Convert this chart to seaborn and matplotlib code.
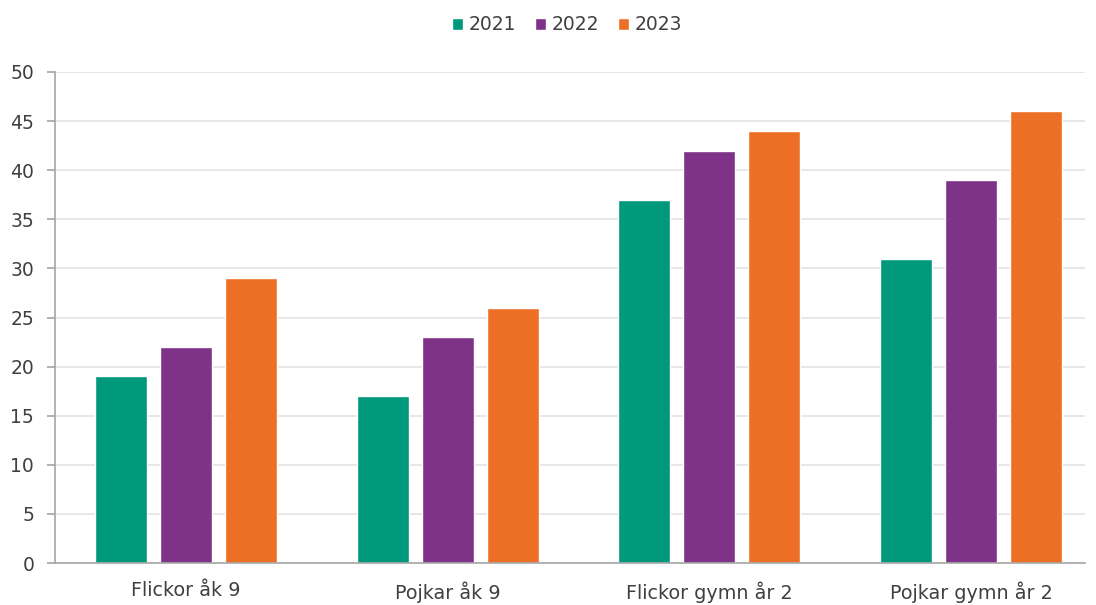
import matplotlib
matplotlib.use("Agg")
import matplotlib.pyplot as plt
import seaborn as sns
import pandas as pd

categories = ["Flickor åk 9", "Pojkar åk 9", "Flickor gymn år 2", "Pojkar gymn år 2"]
years = ["2021", "2022", "2023"]
values_2021 = [19, 17, 37, 31]
values_2022 = [22, 23, 42, 39]
values_2023 = [29, 26, 44, 46]
colors = ["#00997B", "#7E3388", "#EC6F25"]

rows = []
for year, vals in zip(years, [values_2021, values_2022, values_2023]):
    for cat, v in zip(categories, vals):
        rows.append({"grupp": cat, "år": year, "värde": v})
df = pd.DataFrame(rows)

sns.set_theme(style="white")
plt.rcParams["font.family"] = ["DejaVu Sans"]

fig = plt.figure(figsize=(10.96, 6.05), dpi=100)
ax = fig.add_axes([0.0502, 0.0694, 0.9398, 0.8116])

sns.barplot(data=df, x="grupp", y="värde", hue="år", palette=colors,
            order=categories, hue_order=years, width=0.745, gap=0.2,
            saturation=1, ax=ax, legend=True)

ax.set_ylim(0, 50)
ax.set_yticks(range(0, 51, 5))
ax.set_xlim(-0.5, 3.436)
ax.set_xlabel("")
ax.set_ylabel("")
ax.yaxis.grid(True, color="#E3E3E3", linewidth=1.2)
ax.set_axisbelow(True)
for side in ["top", "right"]:
    ax.spines[side].set_visible(False)
ax.spines["left"].set_color("#A6A6A6")
ax.spines["bottom"].set_color("#A6A6A6")
ax.spines["left"].set_linewidth(1.2)
ax.spines["bottom"].set_linewidth(1.2)
ax.tick_params(axis="y", left=True, length=6, color="#A6A6A6", width=1.2,
               labelsize=13.5, labelcolor="#404040", pad=9)
ax.tick_params(axis="x", bottom=False, labelsize=13.8, labelcolor="#404040", pad=7)

handles, labels = ax.get_legend_handles_labels()
ax.legend(handles, labels, loc="upper center", bbox_to_anchor=(0.497, 1.15),
          ncol=3, frameon=False, fontsize=13.5, handlelength=0.6,
          handleheight=0.6, handletextpad=0.3, columnspacing=1.0,
          labelcolor="#404040")

fig.savefig("out.png", dpi=100)
